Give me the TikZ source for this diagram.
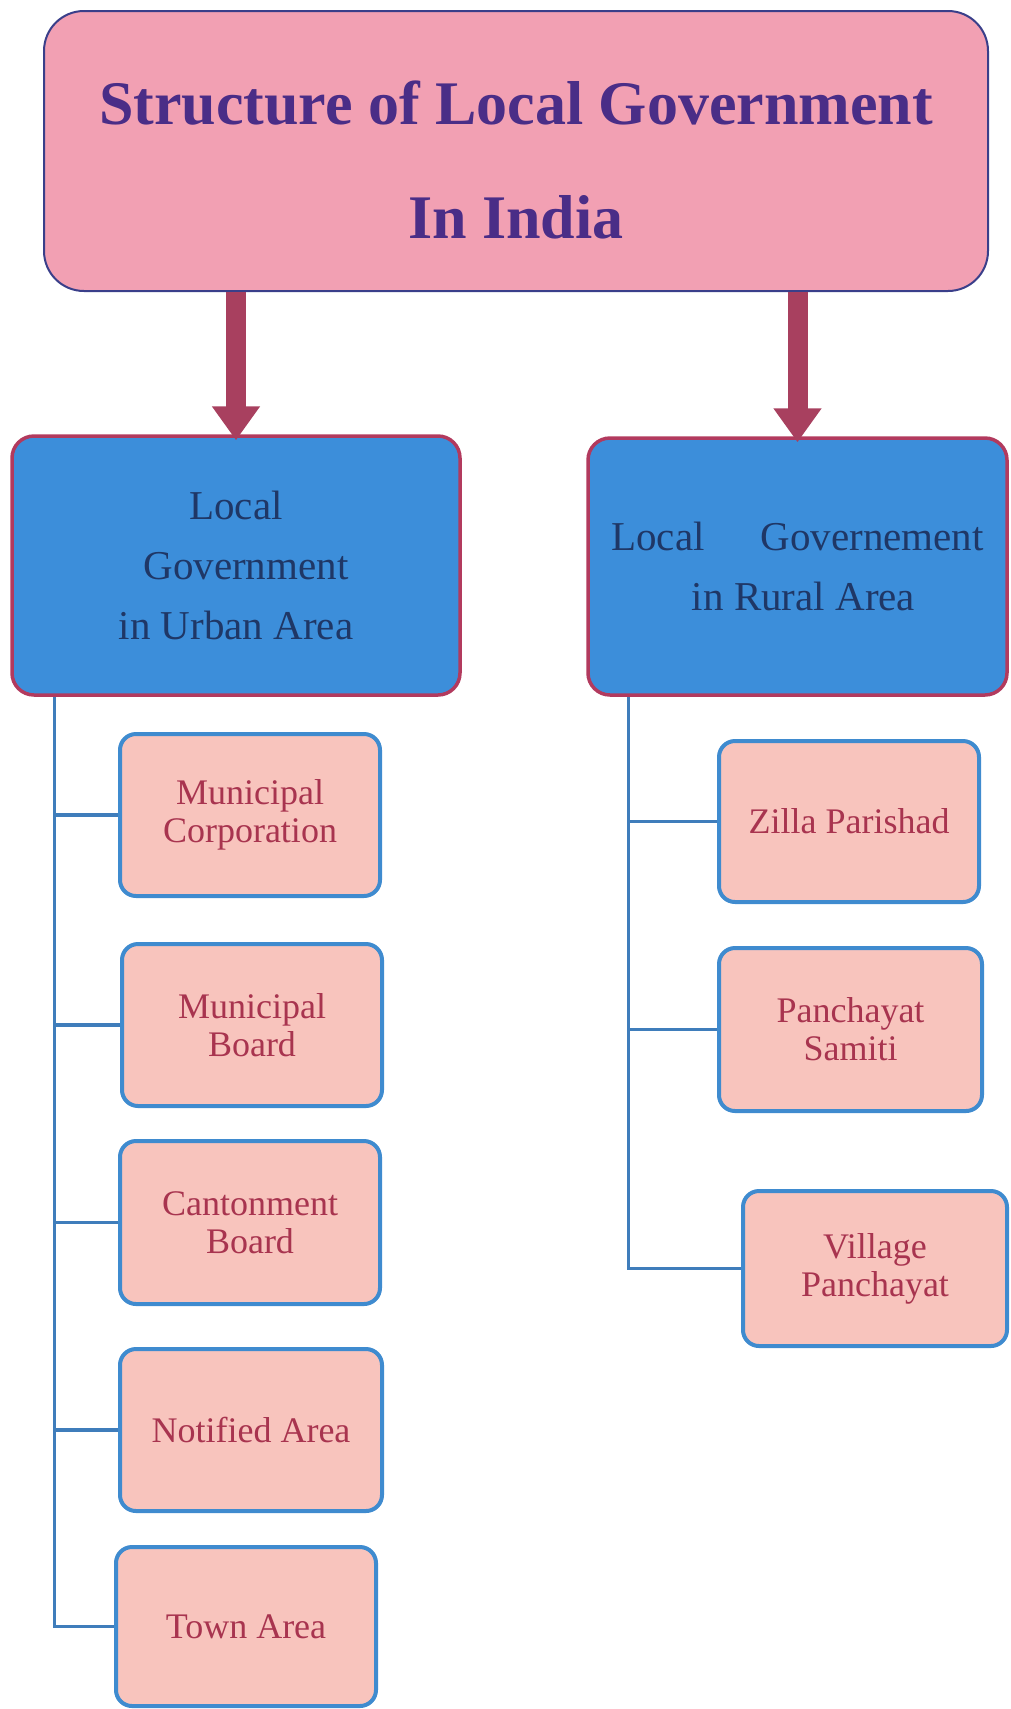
\documentclass[tikz,border=0pt]{standalone}
\usepackage{fontspec}
\setmainfont{Liberation Serif}
\usetikzlibrary{arrows.meta}

\definecolor{toppink}{HTML}{F2A0B3}
\definecolor{topline}{HTML}{3A3F8A}
\definecolor{titlec}{HTML}{4A2D87}
\definecolor{arrowc}{HTML}{A8405F}
\definecolor{areablue}{HTML}{3C8EDA}
\definecolor{arealine}{HTML}{B23A5E}
\definecolor{areatext}{HTML}{1F3766}
\definecolor{unitpink}{HTML}{F8C4BD}
\definecolor{unitline}{HTML}{3F8BCF}
\definecolor{unittext}{HTML}{A8344F}
\definecolor{trunkc}{HTML}{3F7DBB}

\begin{document}
\begin{tikzpicture}[x=1pt,y=-1pt,
  topbox/.style={draw=topline, line width=2pt, fill=toppink, rounded corners=40pt,
    minimum width=944pt, minimum height=280pt, inner sep=0pt},
  titletext/.style={text=titlec, font=\fontsize{62}{62}\selectfont\bfseries, inner sep=0pt},
  areabox/.style={draw=arealine, line width=3.5pt, fill=areablue, rounded corners=22pt,
    text=areatext, font=\fontsize{41}{60}\selectfont, align=center, inner sep=0pt},
  unitbox/.style={draw=unitline, line width=4pt, fill=unitpink, rounded corners=16pt,
    text=unittext, font=\fontsize{36}{38}\selectfont, align=center, inner sep=0pt,
    minimum width=260pt, minimum height=162pt},
  downarrow/.style={arrowc, line width=20pt, -{Triangle[width=46pt,length=34pt]}},
  branch/.style={trunkc, line width=3.5pt}
]
\useasboundingbox (0,0) rectangle (1010,1709);

% heading
\node[topbox] (top) at (516,151) {};
\node[titletext, anchor=base] (titleA) at (516,124) {Structure of Local Government};
\node[titletext, anchor=base] (titleB) at (516,238) {In India};

% urban and rural bodies
\node[areabox, minimum width=448pt, minimum height=259pt] (urban) at (236,565.5)
  {Local\\\hspace*{20pt}Government\\in Urban Area};
\node[areabox, minimum width=419pt, minimum height=257pt] (rural) at (797.5,566.5)
  {Local\hspace{56pt}Governement\\\hspace*{12pt}in Rural Area};

% arrows from the heading, tips reaching just into the boxes
\draw[downarrow] (urban.north |- top.south) -- ([yshift=-6pt]urban.north);
\draw[downarrow] (rural.north |- top.south) -- ([yshift=-6pt]rural.north);

% urban units
\node[unitbox] (mc) at (250,815) {Municipal\\Corporation};
\node[unitbox] (mb) at (252,1025) {Municipal\\Board};
\node[unitbox, minimum height=163pt] (cb) at (250,1222.5) {Cantonment\\Board};
\node[unitbox, minimum width=262pt] (na) at (251,1430) {Notified Area};
\node[unitbox, minimum height=159pt] (ta) at (246,1626.5) {Town Area};

% rural units
\node[unitbox, minimum height=161pt] (zp) at (849,821.5) {Zilla Parishad};
\node[unitbox, minimum width=263pt, minimum height=163pt] (ps) at (850.5,1029.5) {Panchayat\\Samiti};
\node[unitbox, minimum width=264pt, minimum height=155pt] (vp) at (875,1268.5) {Village\\Panchayat};

% tree lines
\coordinate (utop) at ([xshift=44pt]urban.south west);
\coordinate (rtop) at ([xshift=42pt]rural.south west);

\draw[branch] (utop) |- (ta.west);
\foreach \n in {mc,mb,cb,na} \draw[branch] (\n.west) -- (\n.west -| utop);

\draw[branch] (rtop) |- (vp.west);
\foreach \n in {zp,ps} \draw[branch] (\n.west) -- (\n.west -| rtop);

\end{tikzpicture}
\end{document}
